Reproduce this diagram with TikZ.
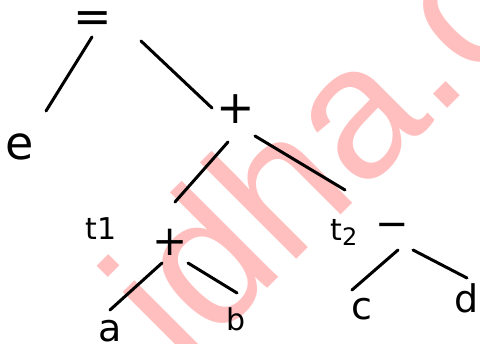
\documentclass[tikz,border=0pt]{standalone}
\usepackage{fontspec}
\setmainfont{DejaVu Sans}
\newfontfamily\wmfont{Liberation Sans}
\usetikzlibrary{calc,positioning}
\newcommand{\fsz}[1]{\fontsize{#1}{#1}\selectfont}

\begin{document}
\begin{tikzpicture}[x=1pt,y=-1pt,
        lab/.style={inner sep=0pt, font=\fsz{38}},
        opr/.style={inner sep=0pt, font=\fsz{46}},
        branch/.style={line width=3pt, line cap=round},
        wmark/.style={text=red!25, font=\wmfont\fsz{188}, rotate=45, anchor=base west, inner sep=0pt}
    ]
        \useasboundingbox (0,0) rectangle (480,344);
        \clip (0,0) rectangle (480,344);

        % watermark behind the tree
        \node[wmark] (wm) at (184,372) {idha.co};

        % operators
        \node[opr] (eq) at (93,22) {=};
        \node[opr] (plusA) at (236,109) {+};
        \node[opr, font=\fsz{42}] (plusB) at (170,242) {+};
        \node[opr, font=\fsz{40}] (minus) at (392,230) {−};

        % leaves and temporaries
        \node[lab, font=\fsz{46}] (e) at (20,147) {e};
        \node[lab] (a) at (110,331) {a};
        \node[lab, font=\fsz{30}] (b) at (236,319) {b};
        \node[lab] (c) at (362,309) {c};
        \node[lab] (d) at (467,298) {d};
        \node[lab, font=\fsz{30}] (t1) at (101,229) {t1};
        \node[lab, font=\fsz{30}] (t2) at (344,232) {t\lower5pt\hbox{\fsz{24}2}};

        \draw[branch] ($(eq)+(-1,15)$) -- ($(e)+(26,-36)$);
        \draw[branch] ($(eq)+(48,19)$) -- ($(plusA)+(-24,-1)$);
        \draw[branch] ($(plusA)+(-8,33)$) -- ($(plusB)+(5,-40)$);
        \draw[branch] ($(plusA)+(19,27)$) -- ($(t2)+(1,-42)$);
        \draw[branch] ($(plusB)+(-8,21)$) -- ($(a)+(0,-21)$);
        \draw[branch] ($(plusB)+(18,21)$) -- ($(b)+(1,-26)$);
        \draw[branch] ($(minus)+(6,20)$) -- ($(c)+(-10,-19)$);
        \draw[branch] ($(minus)+(21,20)$) -- ($(d)+(0,-20)$);
    \end{tikzpicture}
\end{document}
